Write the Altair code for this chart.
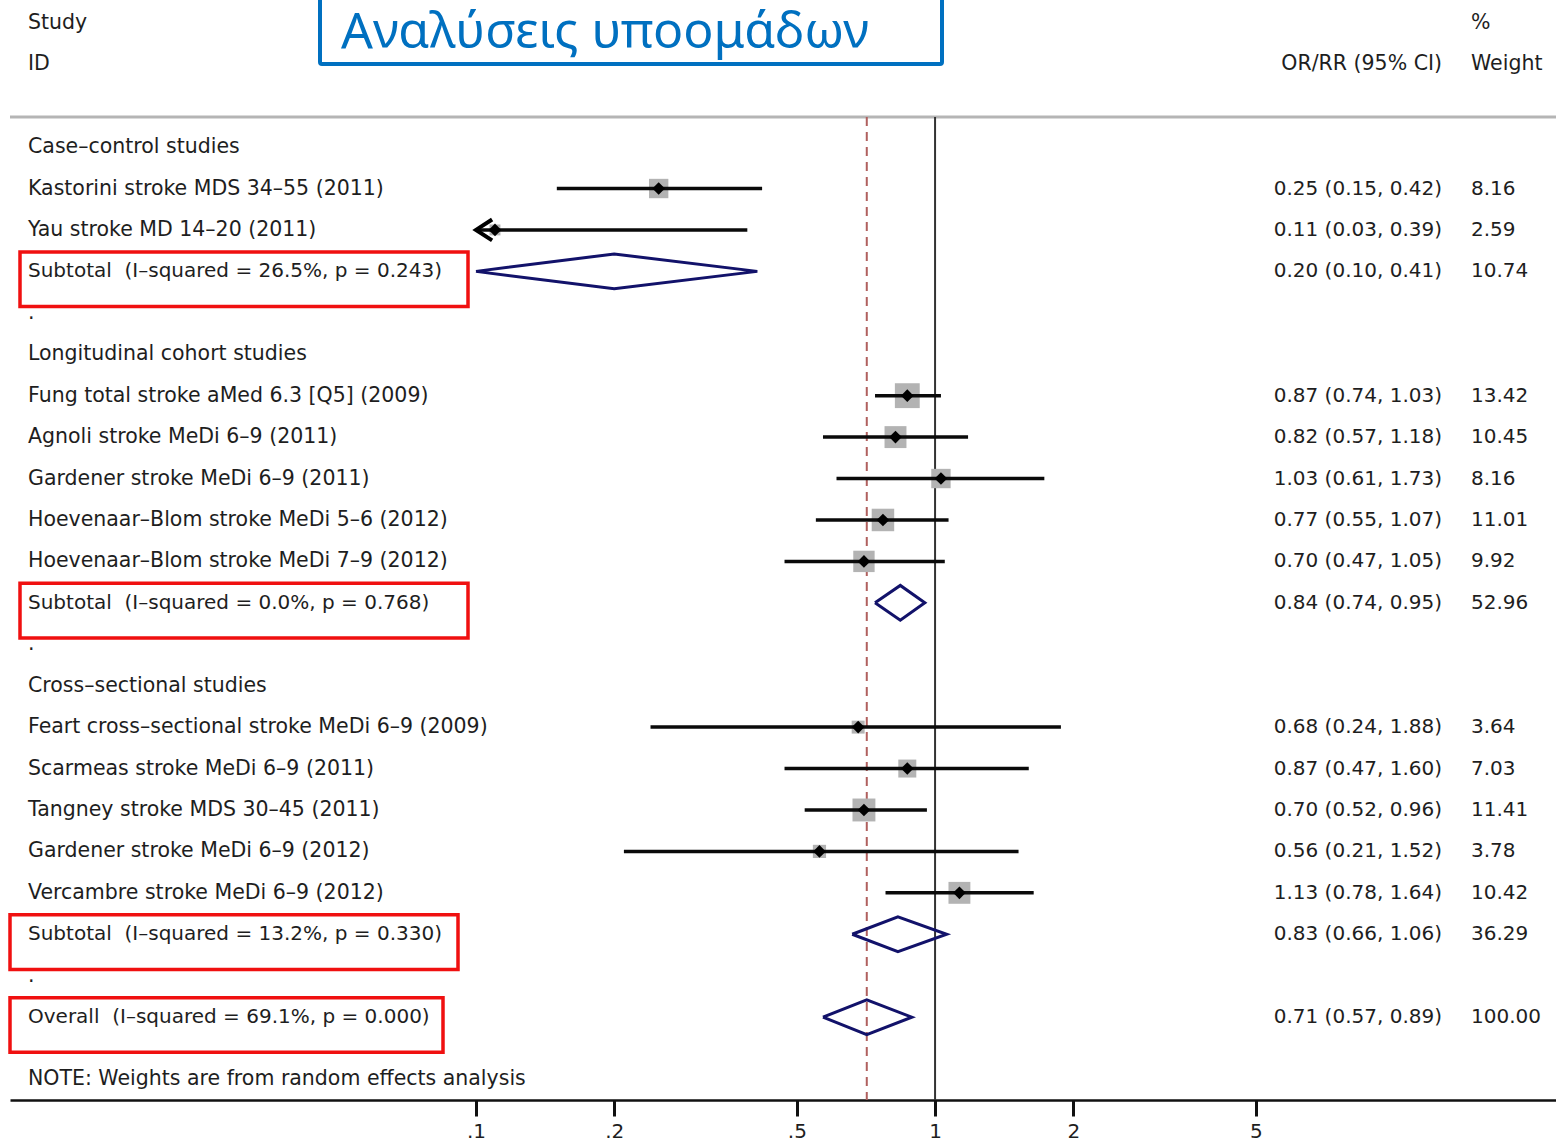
import altair as alt
import pandas as pd

# ---------------- data ----------------
group_names = ["Case–control studies", "Longitudinal cohort studies", "Cross–sectional studies"]
group_rows = [0, 5, 13]

study_names = [
    "Kastorini stroke MDS 34–55 (2011)",
    "Yau stroke MD 14–20 (2011)",
    "Fung total stroke aMed 6.3 [Q5] (2009)",
    "Agnoli stroke MeDi 6–9 (2011)",
    "Gardener stroke MeDi 6–9 (2011)",
    "Hoevenaar–Blom stroke MeDi 5–6 (2012)",
    "Hoevenaar–Blom stroke MeDi 7–9 (2012)",
    "Feart cross–sectional stroke MeDi 6–9 (2009)",
    "Scarmeas stroke MeDi 6–9 (2011)",
    "Tangney stroke MDS 30–45 (2011)",
    "Gardener stroke MeDi 6–9 (2012)",
    "Vercambre stroke MeDi 6–9 (2012)",
]
study_rows = [1, 2, 6, 7, 8, 9, 10, 14, 15, 16, 17, 18]
study_or = [0.25, 0.11, 0.87, 0.82, 1.03, 0.77, 0.70, 0.68, 0.87, 0.70, 0.56, 1.13]
study_lo = [0.15, 0.03, 0.74, 0.57, 0.61, 0.55, 0.47, 0.24, 0.47, 0.52, 0.21, 0.78]
study_hi = [0.42, 0.39, 1.03, 1.18, 1.73, 1.07, 1.05, 1.88, 1.60, 0.96, 1.52, 1.64]
study_w = [8.16, 2.59, 13.42, 10.45, 8.16, 11.01, 9.92, 3.64, 7.03, 11.41, 3.78, 10.42]

pooled_names = [
    "Subtotal\u00a0 (I–squared = 26.5%, p = 0.243)",
    "Subtotal\u00a0 (I–squared = 0.0%, p = 0.768)",
    "Subtotal\u00a0 (I–squared = 13.2%, p = 0.330)",
    "Overall\u00a0 (I–squared = 69.1%, p = 0.000)",
]
pooled_rows = [3, 11, 19, 21]
pooled_or = [0.20, 0.84, 0.83, 0.71]
pooled_lo = [0.10, 0.74, 0.66, 0.57]
pooled_hi = [0.41, 0.95, 1.06, 0.89]
pooled_w = [10.74, 52.96, 36.29, 100.00]

dot_rows = [4, 12, 20]
note_text = "NOTE: Weights are from random effects analysis"
note_row = 22.5

header_left = ["Study", "ID"]
header_left_rows = [-3, -2]
header_ci = "OR/RR (95% CI)"
header_w = ["%", "Weight"]
header_w_rows = [-3, -2]

title_text = "Αναλύσεις υποομάδων"

tick_values = [0.1, 0.2, 0.5, 1, 2, 5]
tick_labels = [".1", ".2", ".5", "1", "2", "5"]

# ---------------- layout / style ----------------
W, H = 1546, 1100
FONT = "DejaVu Sans"
FS = 20
FS_LAB = 20.5
TXT = "#1e1e1e"
NAVY = "#12126a"
X_LABEL = 18      # study label column (px inside plot)
X_CI = 1432       # right edge of CI column
X_W = 1461        # left edge of weight column

xscale = alt.Scale(type="log", domain=[0.00966, 22.52], nice=False)
yscale = alt.Scale(domain=[-3.55, 23.0], reverse=True, nice=False, zero=False)

label_expr = " : ".join(
    [f"datum.value == {v} ? '{l}'" for v, l in zip(tick_values, tick_labels)] + ["''"]
)

clip_lo = tick_values[0]

studies = pd.DataFrame({
    "name": study_names, "row": study_rows, "est": study_or,
    "lo": study_lo, "hi": study_hi, "w": study_w,
})
studies["lo_c"] = studies["lo"].clip(lower=clip_lo)
studies["ci_txt"] = [f"{e:.2f} ({l:.2f}, {h:.2f})" for e, l, h in zip(study_or, study_lo, study_hi)]
studies["w_txt"] = [f"{w:.2f}" for w in study_w]
studies["sq"] = studies["w"] * 46
arrows = studies[studies["lo"] < clip_lo].copy()
arrows["x"] = clip_lo

pooled = pd.DataFrame({
    "name": pooled_names, "row": pooled_rows, "est": pooled_or,
    "lo": pooled_lo, "hi": pooled_hi, "w": pooled_w,
})
pooled["ci_txt"] = [f"{e:.2f} ({l:.2f}, {h:.2f})" for e, l, h in zip(pooled_or, pooled_lo, pooled_hi)]
pooled["w_txt"] = [f"{w:.2f}" for w in pooled_w]

dh = 0.42
poly = []
for i, (r, e, l, h) in enumerate(zip(pooled_rows, pooled_or, pooled_lo, pooled_hi)):
    pts = [(l, r), (e, r - dh), (h, r), (e, r + dh), (l, r)]
    for k, (px, py) in enumerate(pts):
        poly.append({"g": i, "ord": k, "x": px, "y": py})
poly = pd.DataFrame(poly)

labels_df = pd.DataFrame({
    "name": group_names + study_names + ["."] * len(dot_rows) + [note_text],
    "row": group_rows + study_rows + dot_rows + [note_row],
})
pooled_lab_df = pooled[["name", "row"]]

num_df = pd.concat([studies[["row", "ci_txt", "w_txt"]], pooled[["row", "ci_txt", "w_txt"]]])

hdr_left = pd.DataFrame({"t": header_left, "row": header_left_rows})
hdr_w = pd.DataFrame({"t": header_w, "row": header_w_rows})
hdr_ci = pd.DataFrame({"t": [header_ci], "row": [-2]})

# red annotation boxes around pooled labels (x extents in px)
box_x = [(10, 458), (10, 458), (0, 448), (0, 433)]
boxes = pd.DataFrame({
    "y0": [r - 0.47 for r in pooled_rows],
    "y1": [r + 0.85 for r in pooled_rows],
})

overall_est = pooled_or[-1]

# --------- layers ----------
gray_rule = alt.Chart(pd.DataFrame({"a": [0]})).mark_rule(color="#b5b5b5", strokeWidth=3).encode(
    x=alt.value(0), x2=alt.value(W), y=alt.value(117)
)

null_line = alt.Chart(pd.DataFrame({"v": [1]})).mark_rule(color="#333333", strokeWidth=2).encode(
    x=alt.X("v:Q", scale=xscale,
            axis=alt.Axis(values=tick_values, labelExpr=label_expr, title=None, grid=False,
                          domainColor="#111111", domainWidth=2.5, tickColor="#111111",
                          tickWidth=3, tickSize=16, labelFont=FONT, labelFontSize=FS,
                          labelColor=TXT, labelPadding=5, labelFlush=False, labelOverlap=False)),
    y=alt.value(117), y2=alt.value(H),
)

dash_line = alt.Chart(pd.DataFrame({"v": [overall_est]})).mark_rule(
    color="#b0605e", strokeWidth=2, strokeDash=[9, 6]
).encode(x=alt.X("v:Q", scale=xscale), y=alt.value(117), y2=alt.value(H))

squares = alt.Chart(studies).mark_point(shape="square", filled=True, color="#b3b3b3", opacity=1).encode(
    x=alt.X("est:Q", scale=xscale),
    y=alt.Y("row:Q", scale=yscale, axis=None),
    size=alt.Size("sq:Q", scale=None, legend=None),
)

ci_lines = alt.Chart(studies).mark_rule(color="#0a0a0a", strokeWidth=3.5).encode(
    x=alt.X("lo_c:Q", scale=xscale), x2="hi:Q",
    y=alt.Y("row:Q", scale=yscale),
)

points = alt.Chart(studies).mark_point(shape="diamond", filled=True, color="#000000", size=160, opacity=1).encode(
    x=alt.X("est:Q", scale=xscale), y=alt.Y("row:Q", scale=yscale),
)

arrow_marks = alt.Chart(arrows).mark_point(
    shape="M1.7,-1.1L0,0L1.7,1.1", filled=False, color="#000000", strokeWidth=4, size=360, opacity=1
).encode(x=alt.X("x:Q", scale=xscale), y=alt.Y("row:Q", scale=yscale))

diamonds = alt.Chart(poly).mark_line(color=NAVY, strokeWidth=3, strokeJoin="miter").encode(
    x=alt.X("x:Q", scale=xscale), y=alt.Y("y:Q", scale=yscale),
    detail="g:N", order="ord:Q",
)

label_text = alt.Chart(labels_df).mark_text(
    align="left", baseline="middle", font=FONT, fontSize=FS_LAB, color=TXT
).encode(x=alt.value(X_LABEL), y=alt.Y("row:Q", scale=yscale), text="name:N")

pooled_text = alt.Chart(pooled_lab_df).mark_text(
    align="left", baseline="middle", font=FONT, fontSize=FS, color=TXT
).encode(x=alt.value(X_LABEL), y=alt.Y("row:Q", scale=yscale), text="name:N")

ci_text = alt.Chart(num_df).mark_text(
    align="right", baseline="middle", font=FONT, fontSize=FS, color=TXT
).encode(x=alt.value(X_CI), y=alt.Y("row:Q", scale=yscale), text="ci_txt:N")

w_text = alt.Chart(num_df).mark_text(
    align="left", baseline="middle", font=FONT, fontSize=FS, color=TXT
).encode(x=alt.value(X_W), y=alt.Y("row:Q", scale=yscale), text="w_txt:N")

hl = alt.Chart(hdr_left).mark_text(align="left", baseline="middle", font=FONT, fontSize=FS_LAB, color=TXT).encode(
    x=alt.value(X_LABEL), y=alt.Y("row:Q", scale=yscale), text="t:N")
hw = alt.Chart(hdr_w).mark_text(align="left", baseline="middle", font=FONT, fontSize=FS_LAB, color=TXT).encode(
    x=alt.value(X_W), y=alt.Y("row:Q", scale=yscale), text="t:N")
hc = alt.Chart(hdr_ci).mark_text(align="right", baseline="middle", font=FONT, fontSize=FS_LAB, color=TXT).encode(
    x=alt.value(X_CI), y=alt.Y("row:Q", scale=yscale), text="t:N")

box_layers = []
for (x0, x1), (_, b) in zip(box_x, boxes.iterrows()):
    box_layers.append(
        alt.Chart(pd.DataFrame([b])).mark_rect(fill=None, fillOpacity=0, stroke="#f01010", strokeWidth=3.5).encode(
            x=alt.value(x0), x2=alt.value(x1),
            y=alt.Y("y0:Q", scale=yscale), y2="y1:Q",
        )
    )

title_box = alt.Chart(pd.DataFrame({"a": [0]})).mark_rect(
    fill="white", fillOpacity=0, stroke="#0070c0", strokeWidth=4, cornerRadius=2
).encode(x=alt.value(310), x2=alt.value(932), y=alt.value(-10), y2=alt.value(64))

title = alt.Chart(pd.DataFrame({"t": [title_text]})).mark_text(
    align="left", baseline="alphabetic", font="Noto Sans", fontSize=50, color="#0070c0"
).encode(x=alt.value(331), y=alt.value(48), text="t:N")

chart = alt.layer(
    gray_rule, null_line, dash_line, squares, ci_lines, points, arrow_marks, diamonds,
    label_text, pooled_text, ci_text, w_text, hl, hw, hc, *box_layers, title_box, title,
).properties(
    width=W, height=H,
    autosize=alt.AutoSizeParams(type="none"),
    padding={"left": 10, "top": 0, "right": 0, "bottom": 44},
    background="white",
).configure_view(stroke=None)

chart.save("out.html", embed_options={"renderer": "svg", "actions": False})
